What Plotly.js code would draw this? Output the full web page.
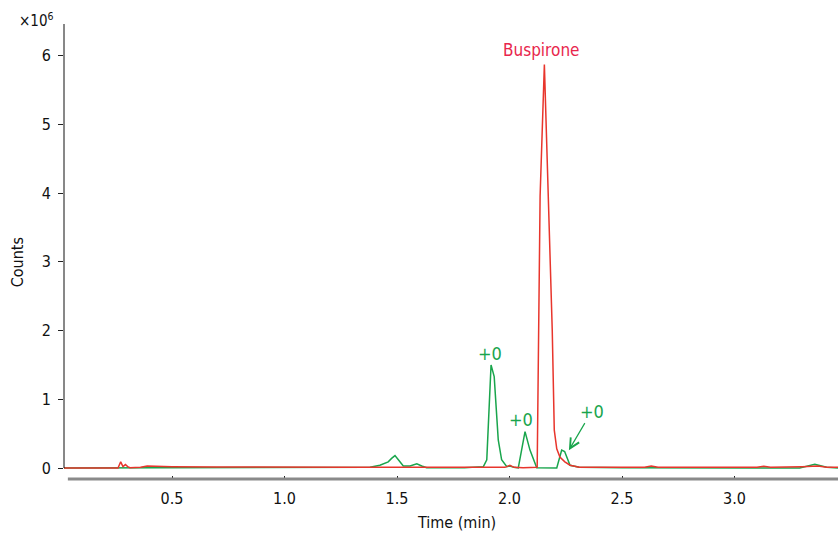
<!DOCTYPE html>
<html>
<head>
<meta charset="utf-8">
<script src="https://cdn.plot.ly/plotly-3.0.1.min.js"></script>
<style>html,body{margin:0;padding:0;background:#fff;}#chart{width:838px;height:534px;}</style>
</head>
<body>
<div id="chart"></div>
<script>
// Time (min)
const redTime = [0.02, 0.26, 0.272, 0.282, 0.293, 0.303, 0.313, 0.325, 0.36, 0.39, 0.47, 0.5, 0.7, 0.9, 1.1, 1.3, 1.5, 1.7, 1.85, 1.98, 2.002, 2.02, 2.06, 2.1, 2.123, 2.136, 2.155, 2.19, 2.199, 2.21, 2.224, 2.246, 2.269, 2.31, 2.45, 2.6, 2.63, 2.66, 2.8, 3.0, 3.1, 3.13, 3.16, 3.3, 3.37, 3.41, 3.46];
// Counts (x10^6)
const redCounts = [0, 0, 0.09, 0.02, 0.05, 0.02, 0.005, 0.005, 0.01, 0.03, 0.03, 0.02, 0.015, 0.01, 0.01, 0.01, 0.01, 0.01, 0.01, 0.01, 0.04, 0.01, 0.005, 0.005, 0.01, 3.95, 5.87, 2.0, 0.55, 0.28, 0.16, 0.09, 0.04, 0.01, 0.01, 0.01, 0.03, 0.01, 0.01, 0.01, 0.01, 0.025, 0.01, 0.02, 0.03, 0.01, 0.01];

const greenTime = [0.02, 0.29, 0.38, 0.47, 0.6, 0.8, 1.0, 1.2, 1.35, 1.38, 1.424, 1.461, 1.476, 1.491, 1.506, 1.528, 1.558, 1.588, 1.61, 1.632, 1.7, 1.8, 1.884, 1.899, 1.918, 1.932, 1.95, 1.965, 1.988, 2.0, 2.02, 2.039, 2.069, 2.091, 2.121, 2.15, 2.21, 2.232, 2.245, 2.269, 2.31, 2.5, 2.75, 3.0, 3.2, 3.29, 3.357, 3.41, 3.46];
const greenCounts = [0, 0, 0.01, 0.01, 0.005, 0.005, 0.005, 0.005, 0.01, 0.01, 0.04, 0.09, 0.14, 0.18, 0.12, 0.03, 0.03, 0.06, 0.03, 0.005, 0.005, 0.005, 0.02, 0.12, 1.5, 1.33, 0.41, 0.12, 0.02, 0.03, 0.01, 0.0, 0.53, 0.26, 0.005, 0.0, 0.0, 0.26, 0.24, 0.04, 0.01, 0.005, 0.005, 0.005, 0.005, 0.0, 0.055, 0.01, 0.0];

const tickVals = [0.5, 1.0, 1.5, 2.0, 2.5, 3.0];
const tickText = ['0.5', '1.0', '1.5', '2.0', '2.5', '3.0'];
const yTickVals = [0, 1, 2, 3, 4, 5, 6];

const FONT = '"Liberation Sans Narrow", "DejaVu Sans Condensed", "Roboto", sans-serif';
const RED = '#e8352c';
const GREEN = '#19a54c';

const traces = [
  {x: greenTime, y: greenCounts, type: 'scatter', mode: 'lines', line: {color: GREEN, width: 1.5}, hoverinfo: 'skip'},
  {x: redTime, y: redCounts, type: 'scatter', mode: 'lines', line: {color: RED, width: 1.5}, hoverinfo: 'skip'}
];

const layout = {
  width: 838, height: 534,
  margin: {l: 64, r: 0, t: 24, b: 55},
  paper_bgcolor: '#fff', plot_bgcolor: '#fff',
  showlegend: false,
  font: {family: FONT, size: 16, color: '#111'},
  xaxis: {
    range: [0.02, 3.46], showgrid: false, zeroline: false, showline: false,
    tickvals: tickVals, ticktext: tickText, ticks: 'inside', ticklen: 3, tickcolor: '#222',
    ticklabelstandoff: 8, tickfont: {family: FONT, size: 16, color: '#111'}
  },
  yaxis: {
    range: [-0.16, 6.46], showgrid: false, zeroline: false, showline: false,
    tickvals: yTickVals, ticks: 'outside', ticklen: 5, tickcolor: '#222',
    ticklabelstandoff: 4, tickfont: {family: FONT, size: 16, color: '#111'}
  },
  shapes: [
    {type: 'line', xref: 'paper', yref: 'y', x0: 0, x1: 0, y0: 0, y1: 6.46, line: {color: '#111', width: 1}},
    {type: 'line', xref: 'paper', yref: 'paper', x0: 0.005, x1: 1, y0: 0, y1: 0, line: {color: '#8a8a8a', width: 3}}
  ],
  annotations: [
    {xref: 'paper', yref: 'paper', x: 0.5075, y: -0.095, xanchor: 'center', yanchor: 'middle', showarrow: false, text: 'Time (min)', font: {family: FONT, size: 16, color: '#111'}},
    {xref: 'paper', yref: 'paper', x: -0.059, y: 0.477, xanchor: 'center', yanchor: 'middle', textangle: -90, showarrow: false, text: 'Counts', font: {family: FONT, size: 16, color: '#111'}},
    {xref: 'paper', yref: 'paper', x: -0.035, y: 1.008, xanchor: 'center', yanchor: 'middle', showarrow: false, text: '×10<sup>6</sup>', font: {family: FONT, size: 15, color: '#111'}},
    {x: 2.144, y: 6.08, xref: 'x', yref: 'y', showarrow: false, text: 'Buspirone', font: {family: FONT, size: 17, color: '#e8264c'}},
    {x: 1.913, y: 1.67, xref: 'x', yref: 'y', showarrow: false, text: '+0', font: {family: FONT, size: 18, color: GREEN}},
    {x: 2.051, y: 0.70, xref: 'x', yref: 'y', showarrow: false, text: '+0', font: {family: FONT, size: 18, color: GREEN}},
    {x: 2.264, y: 0.26, xref: 'x', yref: 'y', showarrow: true, ax: 23, ay: -39, text: '+0', arrowhead: 5, arrowsize: 1.6, arrowwidth: 1.2, arrowcolor: GREEN, font: {family: FONT, size: 18, color: GREEN}}
  ]
};

Plotly.newPlot('chart', traces, layout, {staticPlot: true, displayModeBar: false});
</script>
</body>
</html>
